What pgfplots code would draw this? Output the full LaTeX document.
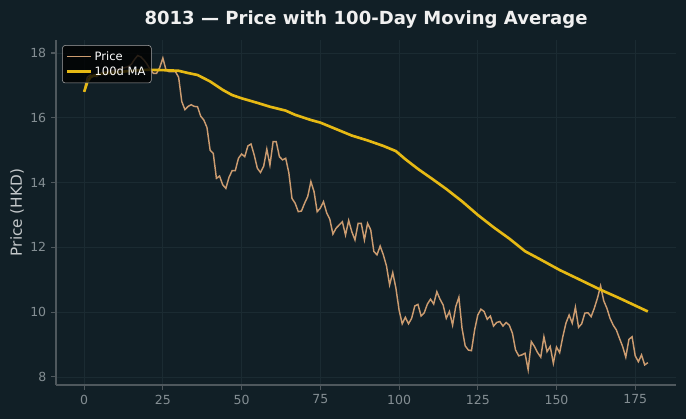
\documentclass[border=0pt]{standalone}
\usepackage{fontspec}
\setmainfont{DejaVu Sans}
\usepackage{pgfplots}
\pgfplotsset{compat=1.18}
\definecolor{bg}{HTML}{111F26}
\definecolor{pricec}{HTML}{CC9C70}
\definecolor{mac}{HTML}{E6B914}
\definecolor{spine}{HTML}{4F585D}
\definecolor{tickc}{HTML}{848E93}
\definecolor{gridc}{HTML}{1B2B32}
\definecolor{titlec}{HTML}{F0F0F0}
\definecolor{labelc}{HTML}{C4C8CA}
\begin{document}
\begin{tikzpicture}
\useasboundingbox (-40.3pt,-24.5pt) rectangle (453.6pt,277.2pt);
\fill[bg] (-40.3pt,-24.5pt) rectangle (453.6pt,277.2pt);
\begin{axis}[
  at={(0,0)}, anchor=south west,
  width=446.4pt, height=248.4pt, scale only axis,
  xmin=-8.95, xmax=187.95, ymin=7.75, ymax=18.40,
  xtick={0,25,50,75,100,125,150,175},
  ytick={8,10,12,14,16,18},
  axis x line*=bottom, axis y line*=left,
  axis line style={spine, line width=0.8pt, -},
  tick align=outside, major tick length=3.5pt,
  tick style={spine, line width=0.8pt},
  every tick label/.append style={text=tickc, font=\fontsize{9}{10}\selectfont},
  /pgf/number format/assume math mode=true,
  grid=major, major grid style={gridc, line width=0.6pt},
  title={\bfseries 8013 — Price with 100-Day Moving Average},
  every axis title/.style={at={(0.5,1)}, anchor=center, yshift=14.4pt, text=titlec, font=\fontsize{13}{15}\selectfont},
  ylabel={Price (HKD)},
  ylabel style={at={(axis description cs:-0.0627,0.5)}, anchor=center, text=labelc, font=\fontsize{11}{12}\selectfont},
  legend style={at={(0.01,0.985)}, anchor=north west, fill=black, fill opacity=0.8, draw opacity=1, text opacity=1, draw=gray!70, rounded corners=2pt, text=white, font=\fontsize{8.3}{10}\selectfont, row sep=-1pt, inner sep=2.2pt},
  legend cell align=left,
]
\addplot[pricec, line width=1.05pt] coordinates {
(0,16.80)(1,17.25)(2,17.32)(3,17.28)(4,17.27)(5,17.35)(6,17.40)(7,17.42)(8,17.44)(9,17.46)
(10,17.48)(11,17.50)(12,17.53)(13,17.55)(14,17.58)(15,17.65)(16,17.80)(17,17.92)(18,17.88)(19,17.78)
(20,17.65)(21,17.48)(22,17.37)(23,17.37)(24,17.55)(25,17.84)(26,17.47)(27,17.42)(28,17.42)(29,17.42)
(30,17.25)(31,16.50)(32,16.25)(33,16.35)(34,16.40)(35,16.35)(36,16.34)(37,16.05)(38,15.93)(39,15.70)
(40,15.00)(41,14.90)(42,14.13)(43,14.20)(44,13.93)(45,13.82)(46,14.16)(47,14.37)(48,14.37)(49,14.75)
(50,14.88)(51,14.80)(52,15.13)(53,15.19)(54,14.85)(55,14.44)(56,14.31)(57,14.50)(58,15.03)(59,14.54)
(60,15.26)(61,15.26)(62,14.80)(63,14.70)(64,14.75)(65,14.30)(66,13.51)(67,13.36)(68,13.10)(69,13.12)
(70,13.36)(71,13.57)(72,14.03)(73,13.72)(74,13.10)(75,13.21)(76,13.41)(77,13.07)(78,12.87)(79,12.41)
(80,12.59)(81,12.69)(82,12.79)(83,12.38)(84,12.83)(85,12.48)(86,12.23)(87,12.74)(88,12.74)(89,12.23)
(90,12.74)(91,12.54)(92,11.87)(93,11.77)(94,12.04)(95,11.77)(96,11.43)(97,10.84)(98,11.22)(99,10.74)
(100,10.07)(101,9.64)(102,9.84)(103,9.64)(104,9.81)(105,10.19)(106,10.24)(107,9.88)(108,9.98)(109,10.25)
(110,10.40)(111,10.25)(112,10.63)(113,10.40)(114,10.22)(115,9.81)(116,10.02)(117,9.60)(118,10.17)(119,10.46)
(120,9.50)(121,8.96)(122,8.83)(123,8.81)(124,9.45)(125,9.91)(126,10.09)(127,10.02)(128,9.78)(129,9.88)
(130,9.57)(131,9.68)(132,9.71)(133,9.57)(134,9.68)(135,9.60)(136,9.35)(137,8.83)(138,8.65)(139,8.68)
(140,8.73)(141,8.22)(142,9.09)(143,8.94)(144,8.75)(145,8.61)(146,9.24)(147,8.78)(148,8.94)(149,8.42)
(150,8.92)(151,8.75)(152,9.24)(153,9.66)(154,9.91)(155,9.66)(156,10.15)(157,9.53)(158,9.64)(159,9.97)
(160,9.98)(161,9.86)(162,10.12)(163,10.43)(164,10.81)(165,10.35)(166,10.12)(167,9.81)(168,9.60)(169,9.45)
(170,9.19)(171,8.94)(172,8.61)(173,9.16)(174,9.24)(175,8.65)(176,8.47)(177,8.68)(178,8.37)(179,8.44)
};
\addlegendentry{Price}
\addplot[mac, line width=1.9pt] coordinates {
(0,16.80)(1,17.10)(2,17.25)(3,17.30)(5,17.35)(10,17.40)(15,17.45)(20,17.48)(25,17.47)(30,17.45)
(33,17.38)(36,17.32)(40,17.12)(44,16.86)(47,16.70)(50,16.60)(55,16.46)(59,16.34)(64,16.22)(67,16.09)
(72,15.93)(75,15.85)(80,15.65)(85,15.45)(90,15.30)(95,15.13)(99,14.97)(102,14.72)(106,14.42)(111,14.08)
(115,13.80)(120,13.42)(125,13.00)(130,12.62)(132,12.48)(135,12.27)(140,11.88)(145,11.62)(151,11.30)
(157,11.02)(164,10.69)(170,10.43)(179,10.02)
};
\addlegendentry{100d MA}
\end{axis}
\end{tikzpicture}
\end{document}
